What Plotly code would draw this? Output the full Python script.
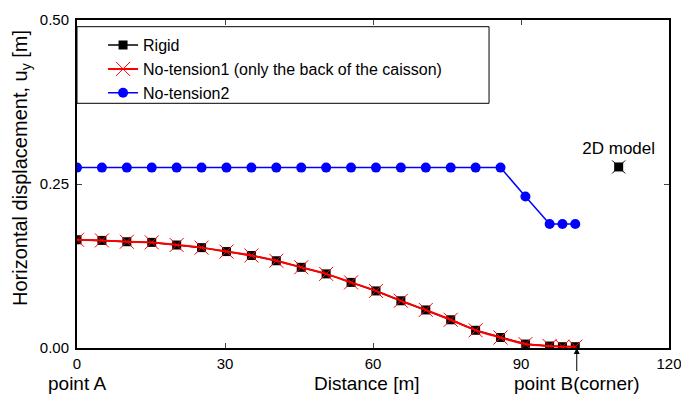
import plotly.graph_objects as go

distance = [0, 5.05, 10.1, 15.15, 20.2, 25.25, 30.3, 35.35, 40.4, 45.45, 50.5,
            55.55, 60.6, 65.65, 70.7, 75.75, 80.8, 85.85, 90.9, 95.8, 98.4, 101.0]
rigid = [0.165, 0.164, 0.162, 0.161, 0.157, 0.153, 0.147, 0.141, 0.133, 0.123, 0.113,
         0.100, 0.087, 0.072, 0.058, 0.043, 0.027, 0.016, 0.006, 0.003, 0.002, 0.002]
no_tension1 = [0.165, 0.164, 0.162, 0.161, 0.157, 0.153, 0.147, 0.141, 0.133, 0.123, 0.113,
               0.100, 0.087, 0.072, 0.058, 0.043, 0.027, 0.016, 0.006, 0.003, 0.002, 0.002]
no_tension2 = [0.275] * 18 + [0.231, 0.189, 0.189, 0.189]
model2d_x = [109.8]
model2d_y = [0.276]

FONT = "Liberation Sans, Arial, sans-serif"

fig = go.Figure()
fig.add_trace(go.Scatter(x=distance, y=rigid, mode="lines+markers", name="Rigid",
                         line=dict(color="black", width=1.5),
                         marker=dict(symbol="square", size=9, color="black")))
fig.add_trace(go.Scatter(x=distance, y=no_tension1, mode="lines+markers",
                         name="No-tension1 (only the back of the caisson)",
                         line=dict(color="red", width=2, shape="spline"),
                         marker=dict(symbol="x-thin", size=14, line=dict(color="red", width=1))))
fig.add_trace(go.Scatter(x=distance, y=no_tension2, mode="lines+markers", name="No-tension2",
                         line=dict(color="blue", width=1.5),
                         marker=dict(symbol="circle", size=10, color="blue")))
fig.add_trace(go.Scatter(x=model2d_x, y=model2d_y, mode="markers", showlegend=False,
                         marker=dict(symbol="square", size=9, color="black")))
fig.add_trace(go.Scatter(x=model2d_x, y=model2d_y, mode="markers+text", showlegend=False,
                         text=["2D model"], textposition="top center",
                         textfont=dict(size=17, color="black", family=FONT),
                         marker=dict(symbol="x-thin", size=13, line=dict(color="black", width=1))))

fig.update_layout(
    width=681, height=394,
    margin=dict(l=77, r=12, t=20, b=46, autoexpand=False),
    plot_bgcolor="white", paper_bgcolor="white",
    font=dict(family=FONT, color="black"),
    showlegend=True,
    legend=dict(x=0.044, y=0.975, xanchor="left", yanchor="top",
                bgcolor="rgba(0,0,0,0)", borderwidth=0,
                font=dict(size=16, family=FONT), tracegroupgap=0),
    xaxis=dict(range=[0, 120], tick0=0, dtick=30, ticks="inside", ticklen=5,
               showline=True, linewidth=2, linecolor="black", mirror="ticks",
               showgrid=False, zeroline=False, automargin=False,
               ticklabeloverflow="allow", ticklabelstandoff=1,
               tickfont=dict(size=15, family=FONT)),
    yaxis=dict(range=[0, 0.5], tick0=0, dtick=0.25, tickformat=".2f", ticks="inside", ticklen=5,
               showline=True, linewidth=2, linecolor="black", mirror="ticks",
               showgrid=False, zeroline=False, automargin=False,
               ticklabeloverflow="allow", ticklabelstandoff=3,
               tickfont=dict(size=15, family=FONT)),
    shapes=[dict(type="rect", xref="paper", yref="paper", x0=0, x1=0.696, y0=0.746, y1=0.9796,
                 line=dict(color="black", width=1), fillcolor="rgba(0,0,0,0)", layer="below")],
    annotations=[
        dict(text="Horizontal displacement, u<sub>y</sub> [m]", xref="paper", yref="paper",
             x=0, y=0.5, xanchor="center", yanchor="middle", xshift=-56, yshift=16,
             textangle=-90, showarrow=False, font=dict(size=20, family=FONT)),
        dict(text="Distance [m]", xref="x", yref="paper", x=58.8, y=0, yshift=-35,
             xanchor="center", yanchor="middle",
             showarrow=False, font=dict(size=19, family=FONT)),
        dict(text="point A", xref="x", yref="paper", x=0, y=0, yshift=-35,
             xanchor="center", yanchor="middle",
             showarrow=False, font=dict(size=19, family=FONT)),
        dict(text="point B(corner)", xref="x", yref="y", x=101.3, y=0, ax=0, ay=35,
             showarrow=True, arrowhead=2, arrowsize=1.2, arrowwidth=1, arrowcolor="black",
             font=dict(size=19, family=FONT)),
    ],
)

fig.write_html("out.html")
